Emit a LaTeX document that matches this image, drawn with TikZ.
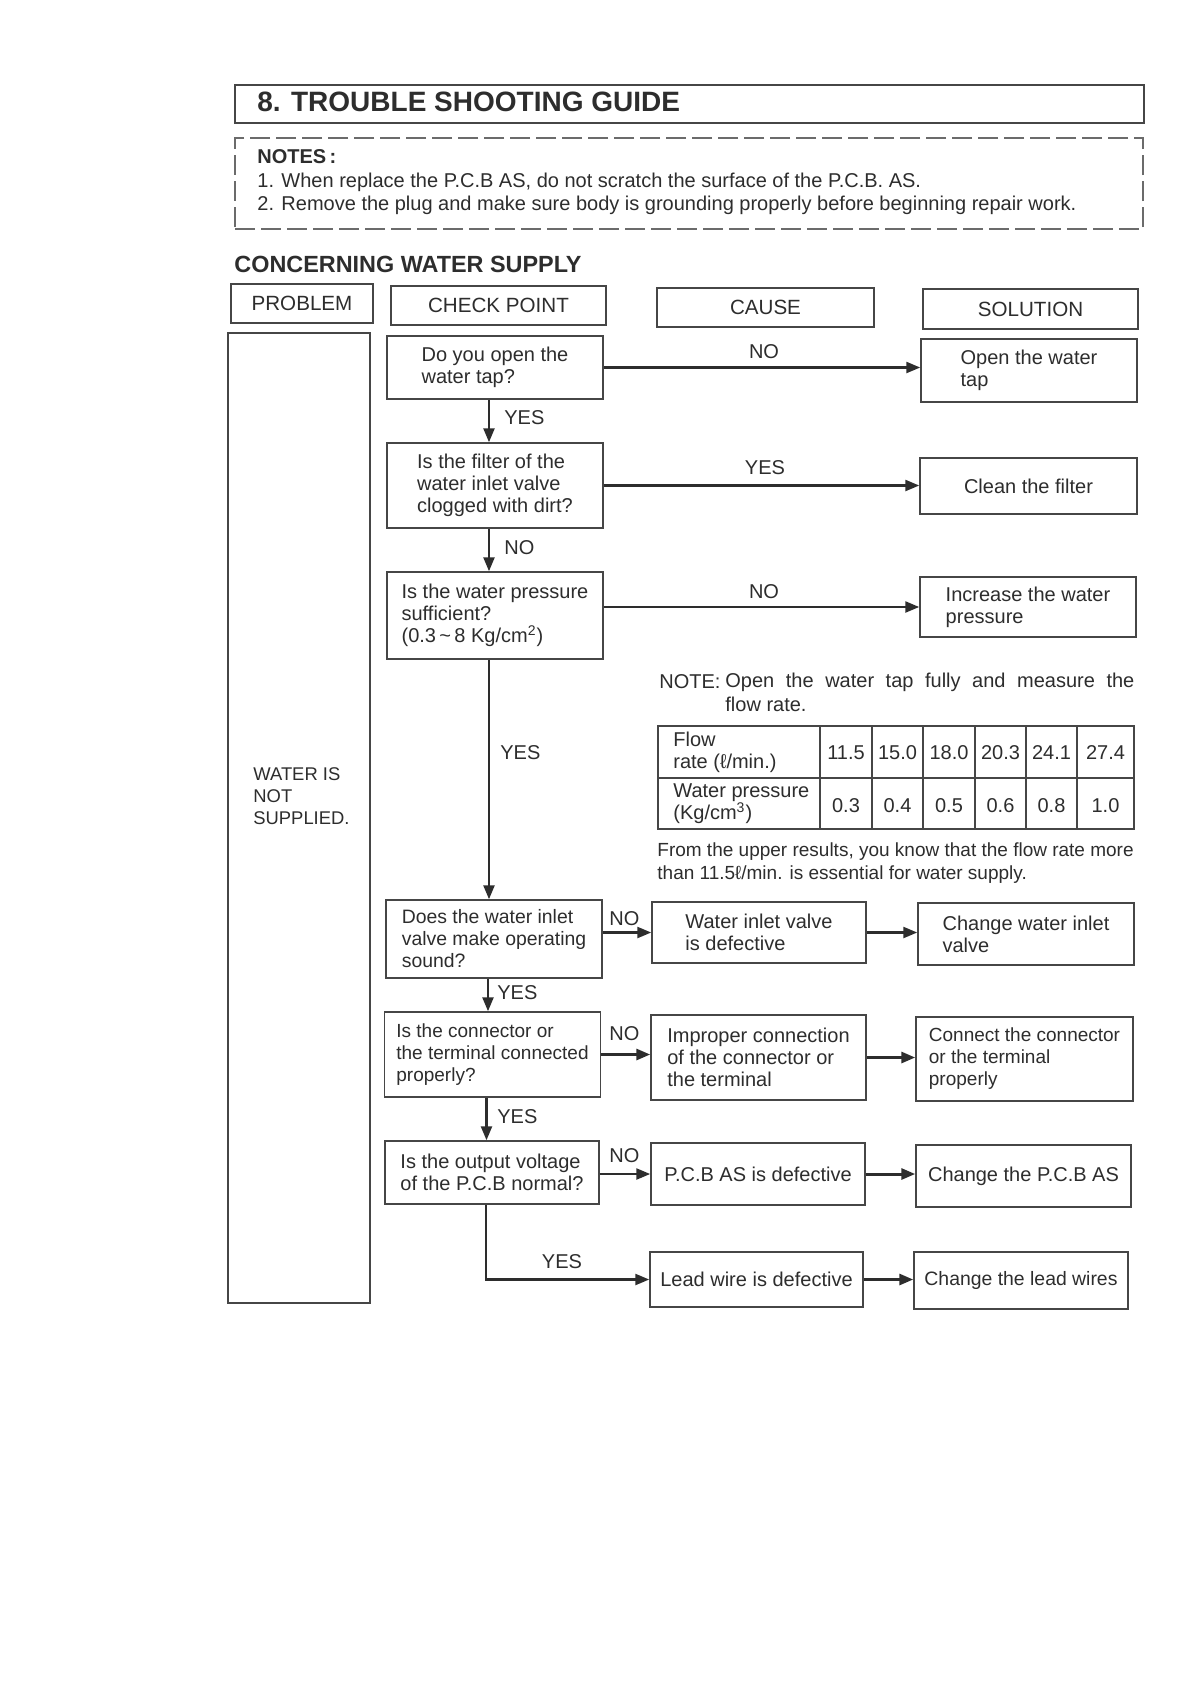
\documentclass[tikz,border=0pt]{standalone}
\usepackage{fontspec}
\setmainfont{Liberation Sans}
\usetikzlibrary{arrows.meta}
\definecolor{txt}{RGB}{45,45,45}
\definecolor{ln}{RGB}{70,70,70}
\definecolor{ar}{RGB}{45,45,45}
\begin{document}
\begin{tikzpicture}[x=0.5pt,y=-0.5pt,
  every node/.style={font=\fontsize{10}{11}\selectfont, text=txt, inner sep=0pt},
  box/.style={draw=ln, line width=0.75pt, align=left, inner sep=0pt},
  hbox/.style={draw=ln, line width=1.4pt, inner sep=0pt, font=\fontsize{10.3}{12}\selectfont},
  arr/.style={draw=ar, line width=1.2pt, -{Triangle[length=7pt,width=5.5pt]}},
  tline/.style={draw=ln, line width=0.75pt},
  smallf/.style={font=\fontsize{9.5}{11}\selectfont},
]
\useasboundingbox[fill=white] (0,0) rectangle (1190,1682);

% title
\node[draw=ln, line width=0.9pt, minimum width=454.5pt, minimum height=19pt, anchor=north west] (titlebox) at (234,84) {};
\node[anchor=west, font=\fontsize{14}{16}\selectfont\bfseries] (title) at (257,102) {8. TROUBLE SHOOTING GUIDE};

% notes
\node[draw=ln!80, line width=1.2pt, dash pattern=on 10pt off 3pt, minimum width=454pt, minimum height=45.5pt, anchor=north west] (notes) at (234,137) {};
\node[anchor=west, font=\fontsize{10}{12}\selectfont\bfseries] (notesh) at (257,157) {NOTES\,:};
\node[anchor=west, font=\fontsize{10}{11}\selectfont] (note1) at (257,182) {1. When replace the P.C.B AS, do not scratch the surface of the P.C.B. AS.};
\node[anchor=west, font=\fontsize{10}{11}\selectfont] (note2) at (257,205) {2. Remove the plug and make sure body is grounding properly before beginning repair work.};

\node[anchor=west, font=\fontsize{11.7}{13}\selectfont\bfseries] (sect) at (234,264) {CONCERNING WATER SUPPLY};

% headers
\node[hbox, minimum width=71pt, minimum height=19.5pt] (hprob) at (302,303.5) {PROBLEM};
\node[hbox, minimum width=107.5pt, minimum height=19.5pt] (hcheck) at (498.5,305.5) {CHECK POINT};
\node[hbox, minimum width=108.5pt, minimum height=19.5pt] (hcause) at (765.5,307.5) {CAUSE};
\node[hbox, minimum width=107.5pt, minimum height=20pt] (hsol) at (1030.5,309) {SOLUTION};

% problem column
\node[box, minimum width=71pt, minimum height=485pt] (prob) at (299,818) {};
\node[anchor=west, align=left, font=\fontsize{9.2}{11}\selectfont] (probt) at (253,796) {WATER IS\\NOT\\SUPPLIED.};

% check points
\node[box, minimum width=108pt, minimum height=31.5pt] (c1) at (495,367.5) {Do you open the\\water tap?};
\node[box, minimum width=108pt, minimum height=42.5pt] (c2) at (495,485.5) {Is the filter of the\\water inlet valve\\clogged with dirt?};
\node[box, minimum width=108pt, minimum height=43.5pt] (c3) at (495,615.5) {Is the water pressure\\sufficient?\\(0.3\,\textasciitilde\,8 Kg/cm\textsuperscript{2})};
\node[box, minimum width=108pt, minimum height=39pt, font=\fontsize{9.7}{11}\selectfont] (c4) at (494,939) {Does the water inlet\\valve make operating\\sound?};
\node[box, minimum width=108pt, minimum height=42.5pt, smallf] (c5) at (492.5,1054.5) {Is the connector or\\the terminal connected\\properly?};
\node[box, minimum width=107pt, minimum height=31.5pt] (c6) at (492,1172.5) {Is the output voltage\\of the P.C.B normal?};

% causes
\node[box, minimum width=107pt, minimum height=30.5pt] (k1) at (759,932.5) {Water inlet valve\\is defective};
\node[box, minimum width=107.5pt, minimum height=42.5pt] (k2) at (758.5,1057.5) {Improper connection\\of the connector or\\the terminal};
\node[box, minimum width=107pt, minimum height=31pt] (k3) at (758,1174) {P.C.B AS is defective};
\node[box, minimum width=106.5pt, minimum height=27.5pt] (k4) at (756.5,1279.5) {Lead wire is defective};

% solutions
\node[box, minimum width=108pt, minimum height=31.5pt] (s1) at (1029,370.5) {Open the water\\tap};
\node[box, minimum width=108.5pt, minimum height=28pt] (s2) at (1028.5,486) {Clean the filter};
\node[box, minimum width=108pt, minimum height=30pt] (s3) at (1028,607) {Increase the water\\pressure};
\node[box, minimum width=108pt, minimum height=31pt] (s4) at (1026,934) {Change water inlet\\valve};
\node[box, minimum width=108.5pt, minimum height=42pt, smallf] (s5) at (1024.5,1059) {Connect the connector\\or the terminal\\properly};
\node[box, minimum width=107.5pt, minimum height=31pt] (s6) at (1023.5,1176) {Change the P.C.B AS};
\node[box, minimum width=107pt, minimum height=28.5pt, font=\fontsize{9.7}{11}\selectfont] (s7) at (1021,1280.5) {Change the lead wires};

% note and table
\node[anchor=west] (noteh) at (659,682) {NOTE:};
\node[anchor=west] (notea) at (725,682) {\makebox[204.5pt][s]{Open the water tap fully and measure the}};
\node[anchor=west] (noteb) at (725,704) {flow rate.};

\draw[tline] (658,726) rectangle (1134,829);
\draw[tline] (658,778) -- (1134,778);
\foreach \xx in {820,872,923,975,1026,1077} \draw[tline] (\xx,726) -- (\xx,829);
\node[anchor=west, align=left] (r1h) at (673,752.5) {Flow\\rate (ℓ/min.)};
\node[anchor=west, align=left] (r2h) at (673,804) {Water pressure\\(Kg/cm\textsuperscript{3})};
\foreach \xx/\va/\vb [count=\i] in {846/11.5/0.3, 897.5/15.0/0.4, 949/18.0/0.5, 1000.5/20.3/0.6, 1051.5/24.1/0.8, 1105.5/27.4/1.0}{
  \node (fa\i) at (\xx,753) {\va};
  \node (fb\i) at (\xx,806) {\vb};
}
\node[anchor=west, align=left, font=\fontsize{9.5}{11.5}\selectfont] (from) at (657,863.5) {From the upper results, you know that the flow rate more\\than 11.5ℓ/min. is essential for water supply.};

% arrows
\draw[arr] (c1.east) -- (c1.east -| s1.west);
\draw[arr] (c2.east) -- (c2.east -| s2.west);
\draw[arr] (c3.east |- s3.west) -- (s3.west);
\draw[arr] ([xshift=-3pt]c1.south) -- ([xshift=-3pt]c1.south |- c2.north);
\draw[arr] ([xshift=-3pt]c2.south) -- ([xshift=-3pt]c2.south |- c3.north);
\draw[arr] ([xshift=-3pt]c3.south) -- ([xshift=-3pt]c3.south |- c4.north);
\draw[arr] ([xshift=-3pt]c4.south) -- ([xshift=-3pt]c4.south |- c5.north);
\draw[arr] ([xshift=-3pt]c5.south) -- ([xshift=-3pt]c5.south |- c6.north);
\draw[arr] ([xshift=-3pt]c6.south) |- (k4.west);
\draw[arr] (c4.east |- k1.west) -- (k1.west);
\draw[arr] (k1.east) -- (k1.east -| s4.west);
\draw[arr, line width=1.5pt] (c5.east) -- (c5.east -| k2.west);
\draw[arr, line width=1.5pt] (k2.east) -- (k2.east -| s5.west);
\draw[arr] (c6.east |- k3.west) -- (k3.west);
\draw[arr, line width=1.5pt] (k3.east) -- (k3.east -| s6.west);
\draw[arr, line width=1.5pt] (k4.east) -- (k4.east -| s7.west);

% labels
\node (l1) at (764,352) {NO};
\node[anchor=west] (l2) at (504,418) {YES};
\node (l3) at (765,468) {YES};
\node[anchor=west] (l4) at (504,548) {NO};
\node (l5) at (764,592) {NO};
\node[anchor=west] (l6) at (500,753) {YES};
\node[anchor=west] (l7) at (609,919) {NO};
\node[anchor=west] (l8) at (497,993) {YES};
\node[anchor=west] (l9) at (609,1034) {NO};
\node[anchor=west] (l10) at (497,1117) {YES};
\node[anchor=west] (l11) at (609,1156) {NO};
\node (l12) at (562,1262) {YES};
\end{tikzpicture}
\end{document}
